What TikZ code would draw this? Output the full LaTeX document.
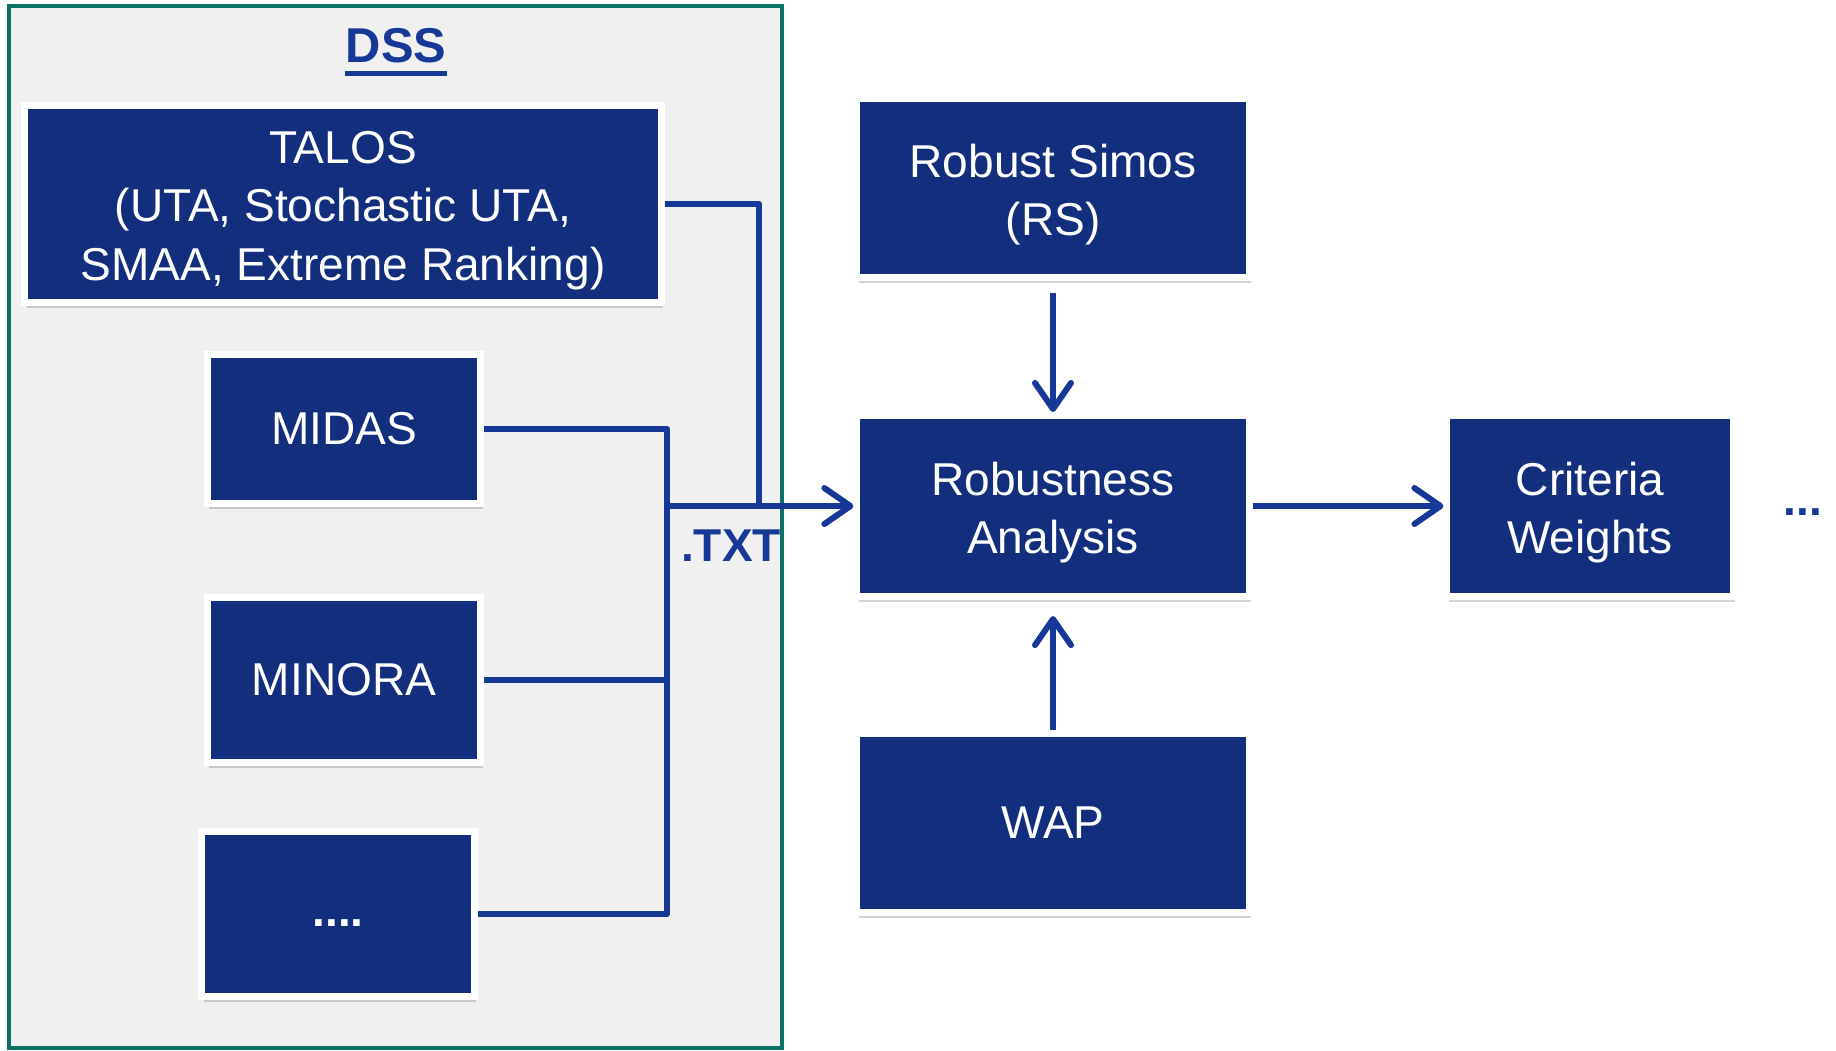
\documentclass[tikz,border=0pt]{standalone}
\usepackage{fontspec}
\setmainfont{Liberation Sans}
\usetikzlibrary{arrows.meta,shadows}

\definecolor{boxblue}{HTML}{122E7D}
\definecolor{lineblue}{HTML}{163896}
\definecolor{dssteal}{HTML}{0A7266}
\definecolor{dssgray}{HTML}{F0F0F0}

\begin{document}
\begin{tikzpicture}[x=0.01cm,y=-0.01cm,
  box node/.style={rectangle,fill=boxblue,draw=white,line width=0.07cm,inner sep=0pt,
    text=white,align=center,font=\fontsize{13.1}{16.6}\selectfont,
    drop shadow={shadow xshift=0.02cm,shadow yshift=-0.05cm,opacity=0.35}},
  text lift/.style={execute at begin node={\rule{0pt}{#1}}},
  flow line/.style={draw=lineblue,line width=0.06cm,line join=round},
  flow arrow/.style={flow line,-{Straight Barb[length=0.26cm,width=0.36cm,round]}},
  label node/.style={text=lineblue,inner sep=0pt,font=\fontsize{13.1}{16.6}\selectfont\bfseries}]

  \useasboundingbox (0,0) rectangle (1836,1050);

  % the DSS frame
  \draw[dssteal,fill=dssgray,line width=0.035cm] (9,6) rectangle (782,1048);
  \node[label node,font=\fontsize{13.9}{16.6}\selectfont\bfseries] (dss) at (396,46) {DSS};
  \draw[lineblue,line width=0.05cm] ([yshift=-0.09cm]dss.south west) -- ([yshift=-0.09cm]dss.south east);

  % methods inside the DSS
  \node[box node,text lift=1.62cm,minimum width=6.36cm,minimum height=1.97cm] (talos) at (343,204)
    {TALOS\\(UTA, Stochastic UTA,\\SMAA, Extreme Ranking)};
  \node[box node,minimum width=2.73cm,minimum height=1.49cm] (midas) at (344,429) {MIDAS};
  \node[box node,minimum width=2.73cm,minimum height=1.65cm] (minora) at (344,680) {MINORA};
  \node[box node,text lift=0.24cm,minimum width=2.72cm,minimum height=1.65cm,
    font=\fontsize{13.1}{16.6}\selectfont\bfseries] (more) at (338,914) {....};

  % analysis chain
  \node[box node,text lift=1.05cm,minimum width=3.92cm,minimum height=1.79cm] (rs) at (1053,188) {Robust Simos\\(RS)};
  \node[box node,text lift=1.05cm,minimum width=3.92cm,minimum height=1.81cm] (ra) at (1053,506) {Robustness\\Analysis};
  \node[box node,minimum width=3.92cm,minimum height=1.79cm] (wap) at (1053,823) {WAP};
  \node[box node,text lift=1.05cm,minimum width=2.86cm,minimum height=1.81cm] (cw) at (1590,506) {Criteria\\Weights};
  \node[label node] (etc) at (1803,512) {...};

  \coordinate (join) at (667,506);
  \coordinate (tdrop) at (759,506);
  \node[label node] (txt) at (731,546) {.TXT};

  \draw[flow line] (talos.east) -| (tdrop);
  \draw[flow line] (midas.east) -| (join |- more.east) -- (more.east);
  \draw[flow line] (minora.east) -- (minora.east -| join);
  \draw[flow arrow] (join) -- (ra.west);

  \draw[flow arrow,shorten <=0.12cm] (rs) -- (ra);
  \draw[flow arrow,shorten >=0.16cm] (wap) -- (ra);
  \draw[flow arrow] (ra) -- (cw);

\end{tikzpicture}
\end{document}
